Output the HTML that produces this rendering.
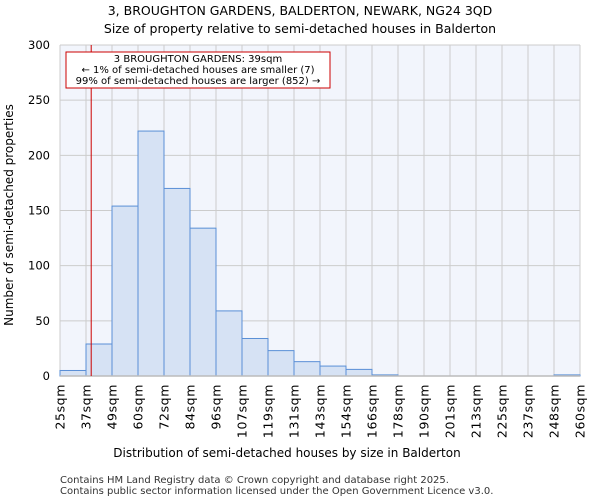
<!DOCTYPE html>
<html><head><meta charset="utf-8"><style>
body{margin:0;background:#fff;font-family:"DejaVu Sans","Liberation Sans",sans-serif}
</style></head><body>
<svg id="c" width="600" height="500" xmlns="http://www.w3.org/2000/svg" font-family="DejaVu Sans, Liberation Sans, sans-serif">
<text x="300" y="15" text-anchor="middle" font-size="12.5">3, BROUGHTON GARDENS, BALDERTON, NEWARK, NG24 3QD</text>
<text x="300" y="33" text-anchor="middle" font-size="12.5">Size of property relative to semi-detached houses in Balderton</text>
<rect x="60" y="45" width="520" height="331" fill="#f2f5fc"/>
<g id="grid"></g><g id="bars"></g><g id="axes"></g>
<text transform="translate(13,215) rotate(-90)" text-anchor="middle" font-size="12">Number of semi-detached properties</text>
<text x="287" y="457" text-anchor="middle" font-size="12">Distribution of semi-detached houses by size in Balderton</text>
<text x="60" y="483" font-size="10" fill="#333">Contains HM Land Registry data © Crown copyright and database right 2025.</text>
<text x="60" y="494" font-size="10" fill="#333">Contains public sector information licensed under the Open Government Licence v3.0.</text>
</svg>
<script>
const binLabels=["25sqm","37sqm","49sqm","60sqm","72sqm","84sqm","96sqm","107sqm","119sqm","131sqm","143sqm","154sqm","166sqm","178sqm","190sqm","201sqm","213sqm","225sqm","237sqm","248sqm","260sqm"];
const counts=[5,29,154,222,170,134,59,34,23,13,9,6,1,0,0,0,0,0,0,1];
const yTicks=[0,50,100,150,200,250,300];
const propertyBin=1.2;
const NS="http://www.w3.org/2000/svg";
const x0=60,x1=580,y0=376,y1=45,yMax=300;
const bw=(x1-x0)/counts.length;
const X=i=>x0+i*bw, Y=v=>y0-(v/yMax)*(y0-y1);
function mk(p,t,a){const e=document.createElementNS(NS,t);for(const k in a)e.setAttribute(k,a[k]);p.appendChild(e);return e;}
const grid=document.getElementById('grid'),bars=document.getElementById('bars'),axes=document.getElementById('axes');
binLabels.forEach((l,i)=>{const g=mk(grid,'line',{x1:X(i),x2:X(i),y1:y1,y2:y0,stroke:'#cccccc','stroke-width':1});


const t=mk(axes,'text',{transform:`translate(${X(i)+4.5},${y0+8}) rotate(-90)`,'text-anchor':'end','font-size':12.5,'letter-spacing':'0.6'});t.textContent=l;

});
yTicks.forEach(v=>{const g=mk(grid,'line',{x1:x0,x2:x1,y1:Y(v),y2:Y(v),stroke:'#cccccc','stroke-width':1});


const t=mk(axes,'text',{x:x0-10,y:Y(v)+4,'text-anchor':'end','font-size':11.5});t.textContent=v;

});
counts.forEach((c,i)=>{const r=mk(bars,'rect',{x:X(i),y:Y(c),width:bw,height:y0-Y(c),fill:'#d6e2f4',stroke:'#5a8fd6','stroke-width':1});

});
const ax=mk(axes,'line',{x1:x0,x2:x1,y1:y0,y2:y0,stroke:'#bbbbbb','stroke-width':1.5});


const px=X(propertyBin);
const ml=mk(axes,'line',{x1:px,x2:px,y1:y1,y2:y0,stroke:'#cc0000','stroke-width':1});


const box=mk(axes,'rect',{x:66,y:52,width:264,height:36,fill:'#ffffff',stroke:'#cc0000','stroke-width':1});


["3 BROUGHTON GARDENS: 39sqm","← 1% of semi-detached houses are smaller (7)","99% of semi-detached houses are larger (852) →"].forEach((s,i)=>{
const t=mk(axes,'text',{x:198,y:62+i*11,'text-anchor':'middle','font-size':10});t.textContent=s;

});
</script>
</body></html>
